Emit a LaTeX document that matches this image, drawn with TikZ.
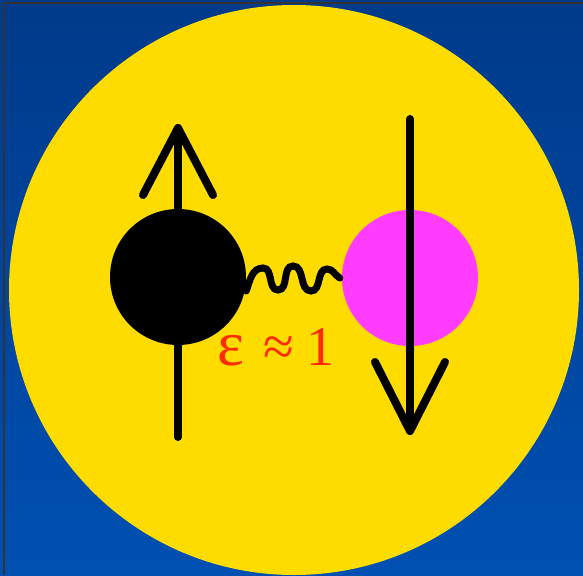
\documentclass[tikz,border=0pt]{standalone}
\usepackage{fontspec}
\setmainfont{Liberation Serif}
\usepackage{tikz}
\usetikzlibrary{positioning,calc}
\definecolor{skytop}{HTML}{003A8A}
\definecolor{skybot}{HTML}{0050B2}
\definecolor{sunc}{HTML}{FFDC00}
\definecolor{pinkc}{HTML}{FF3CFF}
\definecolor{labc}{HTML}{FF2A00}
\tikzset{spin/.style={line width=8pt, line cap=round, line join=round}}

\begin{document}
\begin{tikzpicture}[x=1pt, y=-1pt]
  \useasboundingbox (0,0) rectangle (583,575);
  \shade[top color=skytop, bottom color=skybot] (0,0) rectangle (583,575);
  \draw[black!80, line width=1.5pt] (4,575) -- (4,3) -- (583,3);
  \fill[sunc] (294,290) circle (285);
  \node[circle, fill=black, minimum size=136pt, inner sep=0pt] (e1) at (178,277) {};
  \node[circle, fill=pinkc, minimum size=136pt, inner sep=0pt] (e2) at (410,278) {};
  \coordinate (up0) at (178,437);
  \coordinate (up1) at (178,128);
  \coordinate (dn0) at (410,119);
  \coordinate (dn1) at (410,431);
  \draw[spin] (up0) -- (up1);
  \draw[spin] ($(up1)+(-35,67)$) -- (up1) -- ($(up1)+(35,67)$);
  \draw[spin] (dn0) -- (dn1);
  \draw[spin] ($(dn1)+(-35,-69)$) -- (dn1) -- ($(dn1)+(35,-69)$);
  % exchange coupling
  \draw[line width=7pt, line cap=round]
    ($(e1.east)+(0,14)$) to[out=70,in=180] (263,268)
      to[out=0,in=180] (278,290) to[out=0,in=180] (293,266)
      to[out=0,in=180] (311,291) to[out=0,in=180] (327,269)
      to[out=0,in=150] ($(e2.west)+(-2,0)$);
  \node[text=labc, font=\fontsize{56}{56}\selectfont, anchor=base west, inner sep=0pt] (eps) at (217,365)
    {{\fontsize{64}{64}\selectfont ε}\hspace{19pt}≈\hspace{13pt}1};
\end{tikzpicture}
\end{document}
